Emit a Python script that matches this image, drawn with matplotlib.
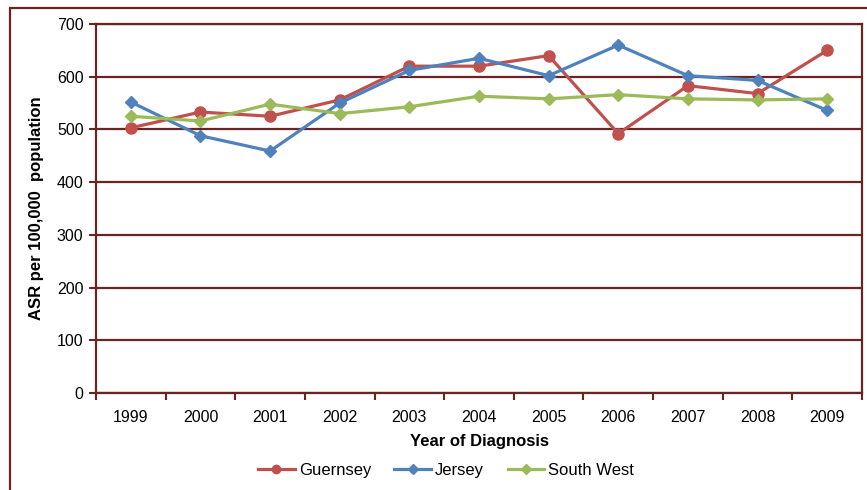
import matplotlib.pyplot as plt
from matplotlib.patches import Rectangle

plt.rcParams['font.family'] = ['Liberation Sans', 'DejaVu Sans']

# data
years = ["1999", "2000", "2001", "2002", "2003", "2004", "2005", "2006", "2007", "2008", "2009"]
guernsey = [503, 533, 525, 556, 620, 620, 640, 492, 583, 568, 650]
jersey = [552, 488, 459, 550, 612, 635, 602, 660, 602, 593, 536]
south_west = [525, 516, 548, 530, 543, 563, 558, 566, 558, 556, 558]

dark = "#6b2424"

fig = plt.figure(figsize=(8.67, 4.9), dpi=100)
ax = fig.add_axes([96/867, 1-393/490, 766/867, 369/490])

x = list(range(len(years)))
ax.plot(x, guernsey, color="#C0504D", lw=2.3, marker="o", ms=8, label="Guernsey")
ax.plot(x, jersey, color="#4F81BD", lw=2.3, marker="D", ms=6.5, label="Jersey")
ax.plot(x, south_west, color="#9BBB59", lw=2.3, marker="D", ms=6.5, label="South West")

ax.set_xlim(-0.5, len(years) - 0.5)
ax.set_ylim(0, 700)
ax.set_yticks(range(0, 701, 100))
ax.set_xticks(x)
ax.set_xticklabels(years)
ax.set_xticks([i - 0.5 for i in range(len(years) + 1)], minor=True)
ax.tick_params(axis="x", which="major", length=0, pad=12, labelsize=11.5)
ax.tick_params(axis="x", which="minor", length=5, width=1.5, color=dark, direction="out")
ax.tick_params(axis="y", length=5, width=1.5, color=dark, labelsize=11.5, pad=4)

ax.grid(axis="y", color=dark, lw=1.6)
ax.set_axisbelow(True)
for s in ax.spines.values():
    s.set_color(dark)
    s.set_linewidth(1.6)

ax.set_xlabel("Year of Diagnosis", fontsize=12, fontweight="bold", labelpad=7)
ax.set_ylabel("ASR per 100,000  population", fontsize=12, fontweight="bold", labelpad=9)

ax.legend(loc="center", bbox_to_anchor=(0.457, -0.209), ncol=3, frameon=False,
          fontsize=12, handlelength=2.2, handletextpad=0.25, columnspacing=1.4,
          markerscale=0.75)

# outer chart border (cut off on right/bottom)
fig.patches.append(Rectangle((10/867, -0.1), 1.2, 1 - 8/490 + 0.1, transform=fig.transFigure,
                             fill=False, ec=dark, lw=1.6))

fig.savefig("out.png", dpi=100)
